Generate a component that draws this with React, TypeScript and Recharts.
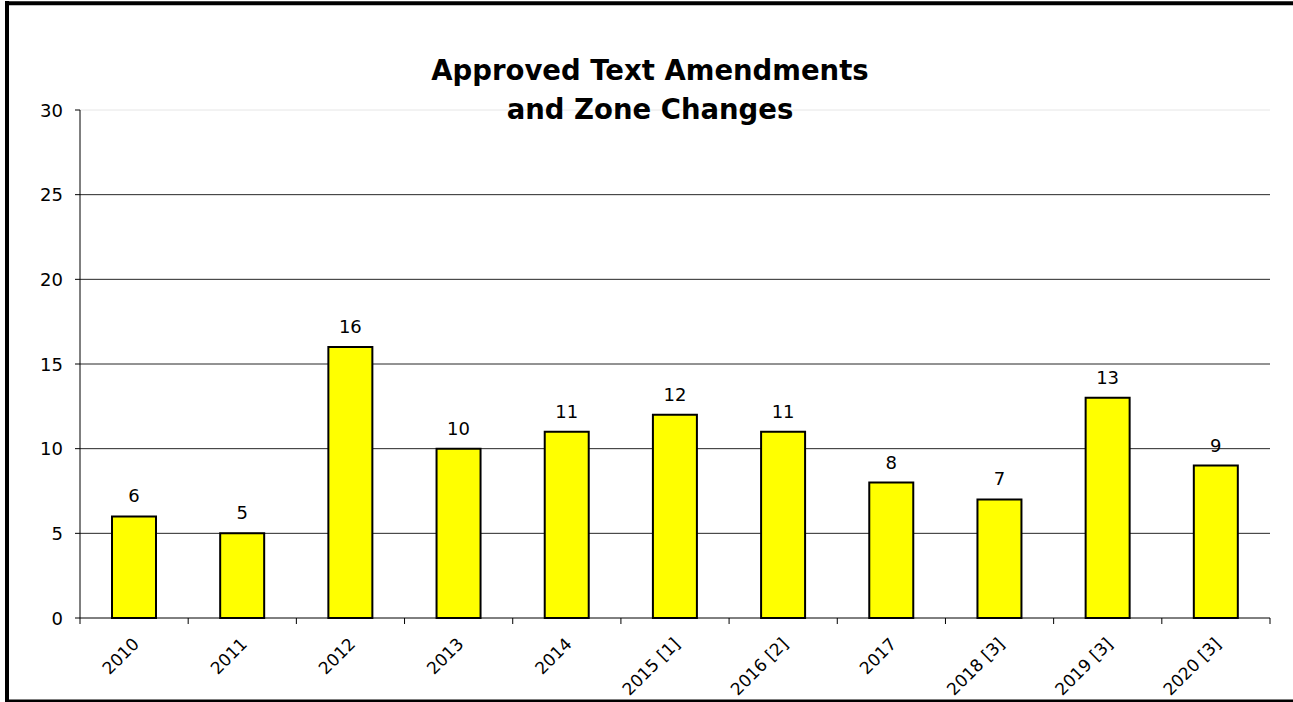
import React from "react";
import {
  BarChart,
  Bar,
  XAxis,
  YAxis,
  CartesianGrid,
  ReferenceLine,
  LabelList,
} from "recharts";

const CATEGORIES = [
  "2010",
  "2011",
  "2012",
  "2013",
  "2014",
  "2015 [1]",
  "2016 [2]",
  "2017",
  "2018 [3]",
  "2019 [3]",
  "2020 [3]",
];
const VALUES = [6, 5, 16, 10, 11, 12, 11, 8, 7, 13, 9];
const Y_TICKS = [0, 5, 10, 15, 20, 25, 30];
const GRID_VALUES = [5, 10, 15, 20, 25];
const TITLE_LINES = ["Approved Text Amendments", "and Zone Changes"];

const data = CATEGORIES.map((c, i) => ({ name: c, value: VALUES[i] }));

const FONT = "'DejaVu Sans', sans-serif";
const W = 1293;
const H = 702;

const XTick = (props: any) => {
  const { x, y, payload, index, width } = props;
  const n = CATEGORIES.length;
  const bw = (typeof width === "number" && width > 0 ? width : 1190) / n;
  return (
    <g>
      <line x1={x - bw / 2} x2={x - bw / 2} y1={y} y2={y + 6} stroke="#000" strokeWidth={1} />
      {index === n - 1 && (
        <line x1={x + bw / 2} x2={x + bw / 2} y1={y} y2={y + 6} stroke="#000" strokeWidth={1} />
      )}
      <text
        transform={`translate(${x + 6},${y + 27}) rotate(-45)`}
        textAnchor="end"
        fontFamily={FONT}
        fontSize={17}
        fill="#000"
      >
        {payload.value}
      </text>
    </g>
  );
};

const YTick = (props: any) => {
  const { x, y, payload } = props;
  return (
    <text x={x} y={y + 6.5} textAnchor="end" fontFamily={FONT} fontSize={18} fill="#000">
      {payload.value}
    </text>
  );
};

const ValueLabel = (props: any) => {
  const { x, y, width, value } = props;
  return (
    <text
      x={Number(x) + Number(width) / 2}
      y={Number(y) - 14}
      textAnchor="middle"
      fontFamily={FONT}
      fontSize={18}
      fill="#000"
    >
      {value}
    </text>
  );
};

export default function App() {
  return (
    <div style={{ position: "absolute", left: 0, top: 0, width: W, height: H, background: "#fff", overflow: "hidden" }}>
      <BarChart
        width={W}
        height={H}
        data={data}
        margin={{ top: 110, right: 23, bottom: 24, left: 20 }}
        barSize={44}
      >
        <CartesianGrid
          vertical={false}
          horizontalValues={GRID_VALUES}
          stroke="#262626"
          strokeWidth={1}
        />
        <ReferenceLine y={30} stroke="#e6e6e6" strokeWidth={1} />
        <XAxis
          dataKey="name"
          interval={0}
          height={60}
          tickLine={false}
          tickSize={0}
          tickMargin={0}
          axisLine={{ stroke: "#000", strokeWidth: 1 }}
          tick={<XTick />}
        />
        <YAxis
          domain={[0, 30]}
          ticks={Y_TICKS}
          width={60}
          tickSize={5}
          tickMargin={12}
          tickLine={{ stroke: "#000" }}
          axisLine={{ stroke: "#000", strokeWidth: 1 }}
          tick={<YTick />}
          interval={0}
        />
        <Bar dataKey="value" fill="#FFFF00" stroke="#000" strokeWidth={2} isAnimationActive={false}>
          <LabelList dataKey="value" content={<ValueLabel />} />
        </Bar>
      </BarChart>
      <svg
        width={W}
        height={H}
        style={{ position: "absolute", left: 0, top: 0, pointerEvents: "none" }}
      >
        <line x1={7} x2={7} y1={1} y2={H} stroke="#000" strokeWidth={4} />
        <line x1={5} x2={W} y1={3.2} y2={3.2} stroke="#000" strokeWidth={4} />
        <line x1={5} x2={W} y1={701} y2={701} stroke="#000" strokeWidth={3} />
        <text x={650} y={80} textAnchor="middle" fontFamily={FONT} fontWeight="bold" fontSize={27.5} fill="#000">
          {TITLE_LINES[0]}
        </text>
        <text x={650} y={119} textAnchor="middle" fontFamily={FONT} fontWeight="bold" fontSize={27.5} fill="#000">
          {TITLE_LINES[1]}
        </text>
      </svg>
    </div>
  );
}
